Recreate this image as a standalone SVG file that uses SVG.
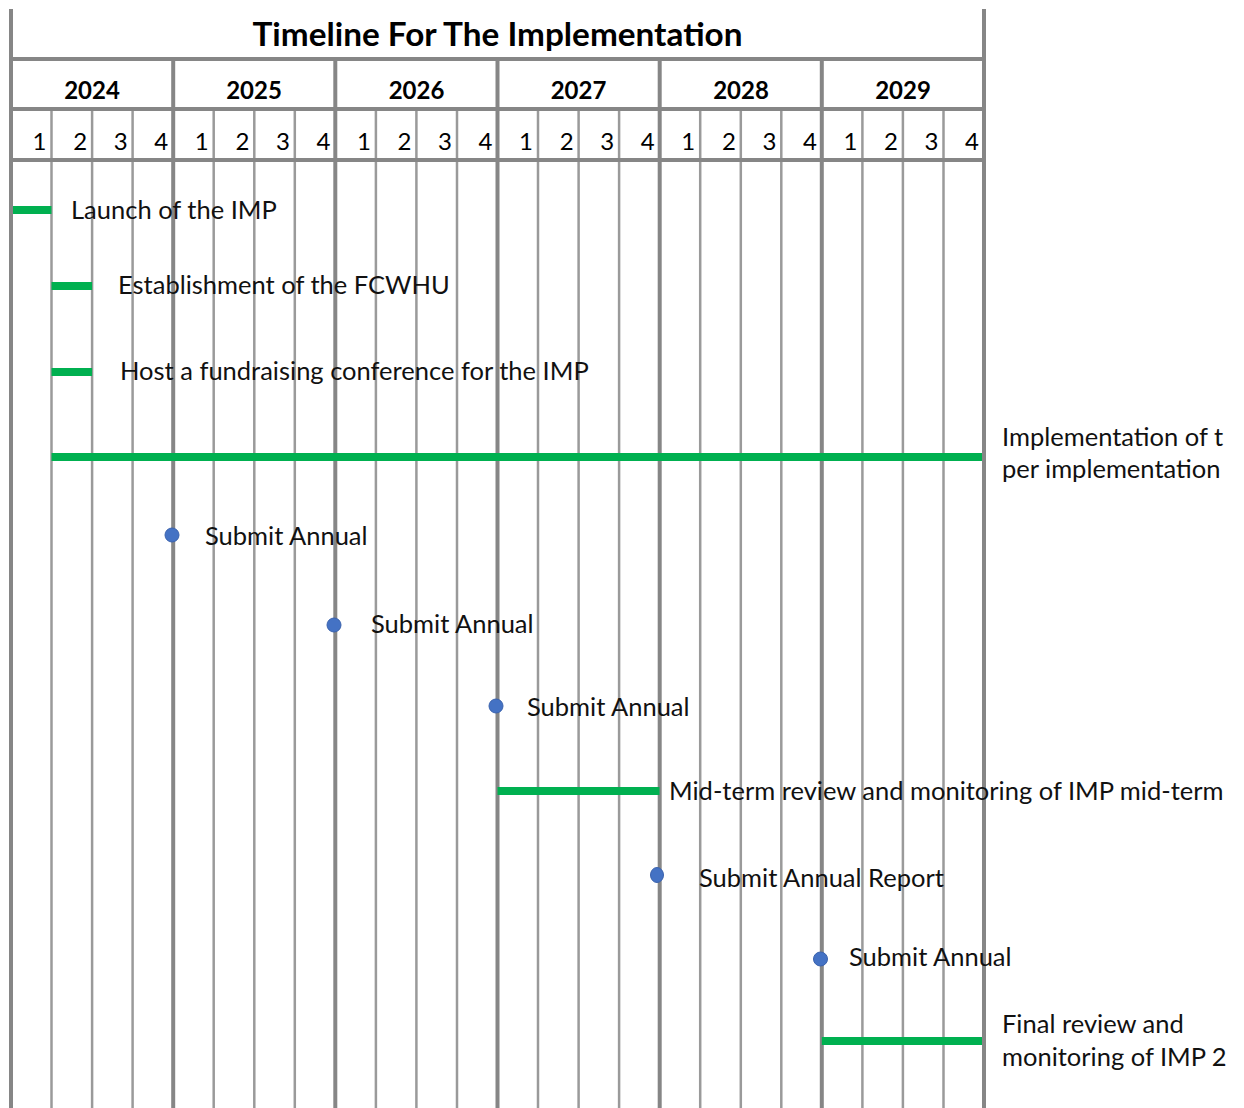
<svg xmlns="http://www.w3.org/2000/svg" width="1244" height="1108" viewBox="0 0 1244 1108">
<style>
.bg{fill:#ffffff}
.thick{stroke:#868686;stroke-width:4}
.thin{stroke:#9a9a9a;stroke-width:2.5}
.title{font-family:Lato,"Open Sans",sans-serif;font-weight:bold;font-size:33.3px;fill:#000;text-anchor:middle}
.year{font-family:Lato,"Open Sans",sans-serif;font-weight:bold;font-size:24px;fill:#000;text-anchor:middle}
.q{font-family:Lato,"Open Sans",sans-serif;font-size:24px;fill:#000;text-anchor:end}
.lbl{font-family:Lato,"Open Sans",sans-serif;font-size:25.5px;fill:#111}
.bar{fill:#00b050}
.dot{fill:#4472c4;stroke:#3a62ad;stroke-width:1}
</style>
<rect class="bg" x="0" y="0" width="1244" height="1108"/>
<g id="grid">
<line class="thin" x1="51.5" y1="109" x2="51.5" y2="1108"/>
<line class="thin" x1="92.1" y1="109" x2="92.1" y2="1108"/>
<line class="thin" x1="132.6" y1="109" x2="132.6" y2="1108"/>
<line class="thin" x1="213.7" y1="109" x2="213.7" y2="1108"/>
<line class="thin" x1="254.3" y1="109" x2="254.3" y2="1108"/>
<line class="thin" x1="294.8" y1="109" x2="294.8" y2="1108"/>
<line class="thin" x1="375.9" y1="109" x2="375.9" y2="1108"/>
<line class="thin" x1="416.4" y1="109" x2="416.4" y2="1108"/>
<line class="thin" x1="457" y1="109" x2="457" y2="1108"/>
<line class="thin" x1="538" y1="109" x2="538" y2="1108"/>
<line class="thin" x1="578.6" y1="109" x2="578.6" y2="1108"/>
<line class="thin" x1="619.1" y1="109" x2="619.1" y2="1108"/>
<line class="thin" x1="700.2" y1="109" x2="700.2" y2="1108"/>
<line class="thin" x1="740.8" y1="109" x2="740.8" y2="1108"/>
<line class="thin" x1="781.3" y1="109" x2="781.3" y2="1108"/>
<line class="thin" x1="862.4" y1="109" x2="862.4" y2="1108"/>
<line class="thin" x1="902.9" y1="109" x2="902.9" y2="1108"/>
<line class="thin" x1="943.5" y1="109" x2="943.5" y2="1108"/>
<line class="thick" x1="173.2" y1="59" x2="173.2" y2="1108"/>
<line class="thick" x1="335.3" y1="59" x2="335.3" y2="1108"/>
<line class="thick" x1="497.5" y1="59" x2="497.5" y2="1108"/>
<line class="thick" x1="659.7" y1="59" x2="659.7" y2="1108"/>
<line class="thick" x1="821.8" y1="59" x2="821.8" y2="1108"/>
<line class="thick" x1="11" y1="9" x2="11" y2="1108"/>
<line class="thick" x1="984" y1="9" x2="984" y2="1108"/>
<line class="thick" x1="11" y1="59" x2="984" y2="59"/>
<line class="thick" x1="11" y1="109" x2="984" y2="109"/>
<line class="thick" x1="11" y1="160" x2="984" y2="160"/>
</g>
<g id="header">
<text class="title" x="497.5" y="46">Timeline For The Implementation</text>
<text class="year" x="92" y="99">2024</text>
<text class="year" x="254" y="99">2025</text>
<text class="year" x="416.5" y="99">2026</text>
<text class="year" x="578.5" y="99">2027</text>
<text class="year" x="741" y="99">2028</text>
<text class="year" x="903" y="99">2029</text>
<text class="q" x="46.5" y="150">1</text>
<text class="q" x="87.1" y="150">2</text>
<text class="q" x="127.6" y="150">3</text>
<text class="q" x="168.2" y="150">4</text>
<text class="q" x="208.7" y="150">1</text>
<text class="q" x="249.3" y="150">2</text>
<text class="q" x="289.8" y="150">3</text>
<text class="q" x="330.3" y="150">4</text>
<text class="q" x="370.9" y="150">1</text>
<text class="q" x="411.4" y="150">2</text>
<text class="q" x="452" y="150">3</text>
<text class="q" x="492.5" y="150">4</text>
<text class="q" x="533" y="150">1</text>
<text class="q" x="573.6" y="150">2</text>
<text class="q" x="614.1" y="150">3</text>
<text class="q" x="654.7" y="150">4</text>
<text class="q" x="695.2" y="150">1</text>
<text class="q" x="735.8" y="150">2</text>
<text class="q" x="776.3" y="150">3</text>
<text class="q" x="816.8" y="150">4</text>
<text class="q" x="857.4" y="150">1</text>
<text class="q" x="897.9" y="150">2</text>
<text class="q" x="938.5" y="150">3</text>
<text class="q" x="979" y="150">4</text>
</g>
<g id="connectors"></g>
<g id="task-launch">
<rect class="bar" x="13" y="206" width="38.5" height="8"/>
<text class="lbl" x="71" y="219">Launch of the IMP</text>
</g>
<g id="task-fcwhu">
<rect class="bar" x="51.5" y="282" width="40.6" height="8"/>
<text class="lbl" x="118" y="294">Establishment of the FCWHU</text>
</g>
<g id="task-fundraising">
<rect class="bar" x="51.5" y="368" width="40.6" height="8"/>
<text class="lbl" x="120" y="380">Host a fundraising conference for the IMP</text>
</g>
<g id="task-implementation">
<rect class="bar" x="51.5" y="453" width="930.5" height="8"/>
<text class="lbl" x="1002" y="446">Implementation of t</text>
<text class="lbl" x="1002" y="478">per implementation</text>
</g>
<g id="milestone-2024">
<circle class="dot" cx="172" cy="535" r="7"/>
<text class="lbl" x="205" y="545">Submit Annual</text>
</g>
<g id="milestone-2025">
<circle class="dot" cx="334" cy="625" r="7"/>
<text class="lbl" x="371" y="633">Submit Annual</text>
</g>
<g id="milestone-2026">
<circle class="dot" cx="496" cy="706" r="7"/>
<text class="lbl" x="527" y="716">Submit Annual</text>
</g>
<g id="task-midterm">
<rect class="bar" x="497.5" y="787" width="162" height="8"/>
<text class="lbl" x="669" y="800">Mid-term review and monitoring of IMP mid-term</text>
</g>
<g id="milestone-2027">
<ellipse class="dot" cx="657" cy="875" rx="6.5" ry="7.5"/>
<text class="lbl" x="699" y="887">Submit Annual Report</text>
</g>
<g id="milestone-2028">
<circle class="dot" cx="820.5" cy="959" r="7"/>
<text class="lbl" x="849" y="966">Submit Annual</text>
</g>
<g id="task-final">
<rect class="bar" x="821.8" y="1037" width="160.2" height="8"/>
<text class="lbl" x="1002" y="1033">Final review and</text>
<text class="lbl" x="1002" y="1066">monitoring of IMP 2</text>
</g>
</svg>
